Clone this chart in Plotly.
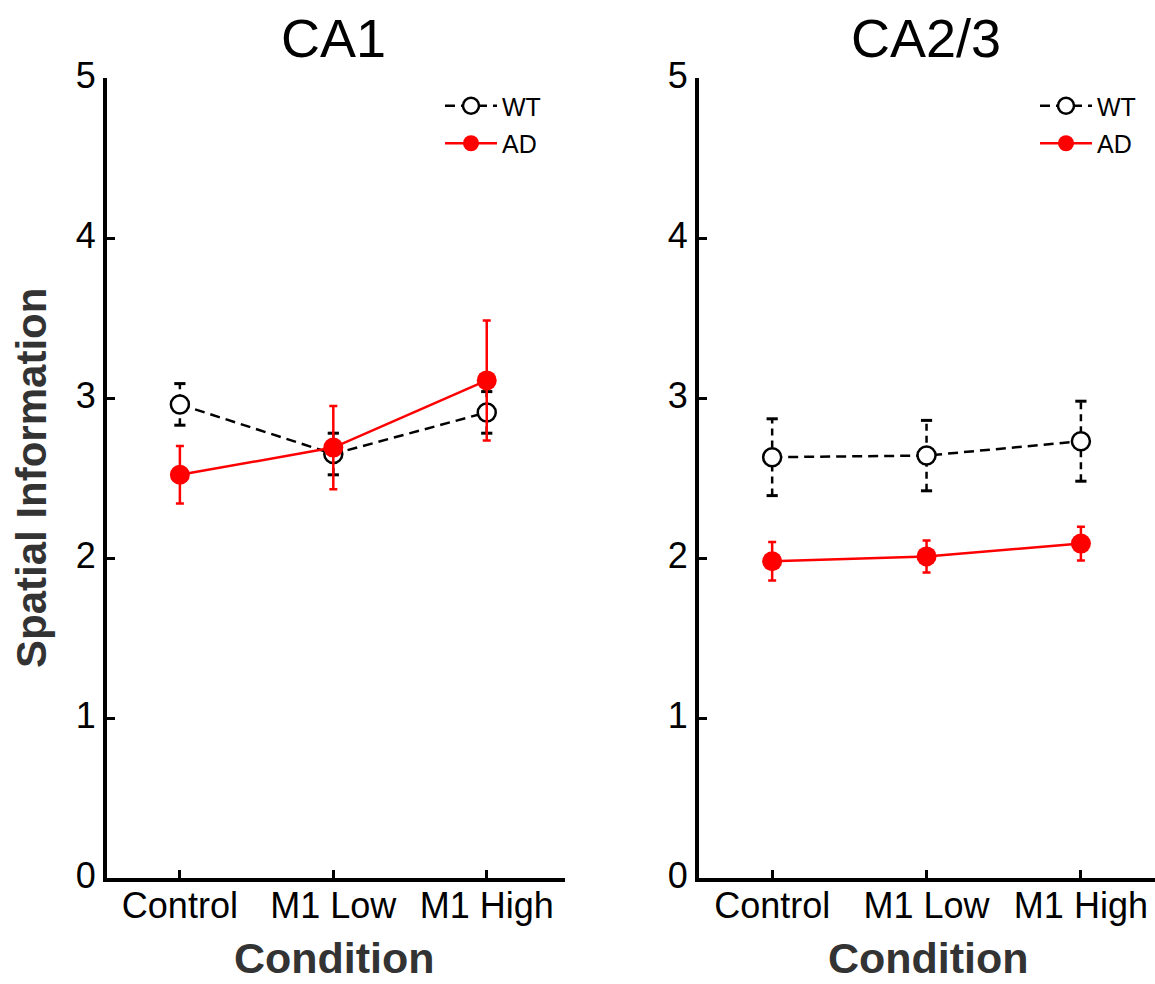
import plotly.graph_objects as go

categories = ["Control", "M1 Low", "M1 High"]
y_ticks = [0, 1, 2, 3, 4, 5]

# CA1
ca1_wt_mean = [2.96, 2.65, 2.91]
ca1_wt_err = [0.13, 0.13, 0.13]
ca1_ad_mean = [2.52, 2.69, 3.11]
ca1_ad_err = [0.18, 0.26, 0.375]

# CA2/3
ca23_wt_mean = [2.63, 2.64, 2.73]
ca23_wt_err = [0.24, 0.22, 0.25]
ca23_ad_mean = [1.98, 2.01, 2.09]
ca23_ad_err = [0.12, 0.10, 0.105]

FONT = "Liberation Sans, Arial, sans-serif"
RED = "#ff0000"

fig = go.Figure()


def add_panel(wt_mean, wt_err, ad_mean, ad_err, xa, ya, legend):
    # dashed WT error bars built from data
    ex, ey, cx, cy = [], [], [], []
    for c, m, e in zip(categories, wt_mean, wt_err):
        ex += [c, c, None]
        ey += [m - e, m + e, None]
        cx += [c, c]
        cy += [m - e, m + e]
    fig.add_trace(go.Scatter(x=ex, y=ey, mode="lines", xaxis=xa, yaxis=ya,
                             line=dict(color="black", width=2.5, dash="7px,5px"),
                             showlegend=False, hoverinfo="skip"))
    fig.add_trace(go.Scatter(x=cx, y=cy, mode="markers", xaxis=xa, yaxis=ya,
                             marker=dict(symbol="line-ew", size=8,
                                         line=dict(color="black", width=3)),
                             showlegend=False, hoverinfo="skip"))
    fig.add_trace(go.Scatter(x=categories, y=wt_mean, mode="lines+markers", name="WT",
                             xaxis=xa, yaxis=ya, legend=legend, legendgroup="wt",
                             line=dict(color="black", width=2.5, dash="10px,6px"),
                             marker=dict(symbol="circle", size=18, color="white",
                                         line=dict(color="black", width=2.5))))
    fig.add_trace(go.Scatter(x=categories, y=ad_mean, mode="lines+markers", name="AD",
                             xaxis=xa, yaxis=ya, legend=legend, legendgroup="ad",
                             line=dict(color=RED, width=2.5),
                             error_y=dict(type="data", array=ad_err, color=RED,
                                          thickness=2.5, width=4),
                             marker=dict(symbol="circle", size=20, color=RED,
                                         line=dict(color=RED, width=0))))


add_panel(ca1_wt_mean, ca1_wt_err, ca1_ad_mean, ca1_ad_err, "x", "y", "legend")
add_panel(ca23_wt_mean, ca23_wt_err, ca23_ad_mean, ca23_ad_err, "x2", "y2", "legend2")

W, H = 1155, 984
ydom = [(H - 878) / H, (H - 78) / H]

axis_common = dict(showline=True, linecolor="black", linewidth=4, ticks="inside",
                   ticklen=8, tickwidth=3, tickcolor="black", showgrid=False,
                   zeroline=False, mirror=False, automargin=False,
                   tickfont=dict(family=FONT, size=36, color="black"))
xaxis_extra = dict(type="category", categoryorder="array", categoryarray=categories,
                   ticklabelstandoff=-7)
yaxis_extra = dict(range=[0, 5], tickvals=y_ticks, ticklabelshift=-3)

legend_common = dict(xanchor="left", yanchor="top", bgcolor="rgba(0,0,0,0)",
                     font=dict(family=FONT, size=25, color="black"),
                     itemwidth=52, tracegroupgap=2)

fig.update_layout(
    width=W, height=H, margin=dict(l=0, r=0, t=0, b=0, autoexpand=False),
    plot_bgcolor="white", paper_bgcolor="white",
    font=dict(family=FONT, color="black"),
    xaxis=dict(domain=[107 / W, 565 / W], range=[-0.475, 2.51], anchor="y",
               **xaxis_extra, **axis_common),
    yaxis=dict(domain=ydom, anchor="x", **yaxis_extra, **axis_common),
    xaxis2=dict(domain=[699 / W, 1.0], range=[-0.474, 2.48], anchor="y2",
                **xaxis_extra, **axis_common),
    yaxis2=dict(domain=ydom, anchor="x2", **yaxis_extra, **axis_common),
    legend=dict(x=440 / W, y=(H - 83) / H, **legend_common),
    legend2=dict(x=1035 / W, y=(H - 83) / H, **legend_common),
    annotations=[
        dict(text="CA1", x=333 / W, y=(H - 38) / H, xref="paper", yref="paper",
             showarrow=False, font=dict(family=FONT, size=54, color="black"),
             xanchor="center", yanchor="middle"),
        dict(text="CA2/3", x=926 / W, y=(H - 38) / H, xref="paper", yref="paper",
             showarrow=False, font=dict(family=FONT, size=54, color="black"),
             xanchor="center", yanchor="middle"),
        dict(text="<b>Spatial Information</b>", x=32 / W, y=(H - 478) / H,
             xref="paper", yref="paper", showarrow=False, textangle=-90,
             font=dict(family=FONT, size=42, color="#333333"),
             xanchor="center", yanchor="middle"),
        dict(text="<b>Condition</b>", x=334 / W, y=(H - 958) / H, xref="paper",
             yref="paper", showarrow=False, borderpad=0,
             font=dict(family=FONT, size=43, color="#333333"),
             xanchor="center", yanchor="middle"),
        dict(text="<b>Condition</b>", x=928 / W, y=(H - 958) / H, xref="paper",
             yref="paper", showarrow=False, borderpad=0,
             font=dict(family=FONT, size=43, color="#333333"),
             xanchor="center", yanchor="middle"),
    ],
)

fig.write_html("out.html", config={"displayModeBar": False},
               post_script="document.body.style.margin='0';document.body.style.overflow='hidden';")
